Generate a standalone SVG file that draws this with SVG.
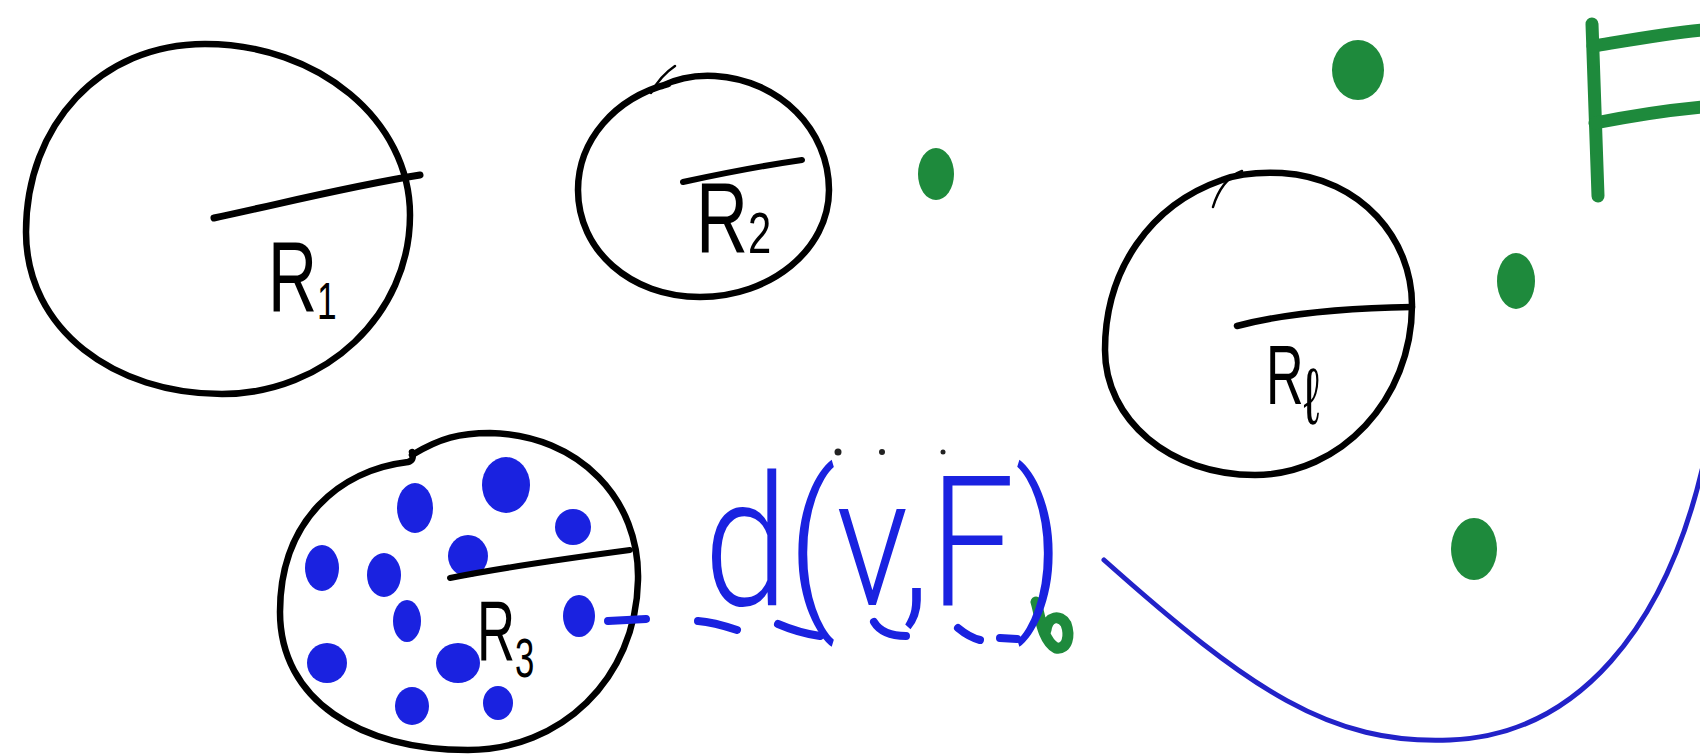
<svg xmlns="http://www.w3.org/2000/svg" width="1700" height="754" viewBox="0 0 1700 754">
<style>
.ring{fill:none;stroke:#000;stroke-width:6.5;stroke-linecap:round;stroke-linejoin:round}
.hook{fill:none;stroke:#000;stroke-width:2.5;stroke-linecap:round}
.rad{fill:none;stroke:#000;stroke-width:7;stroke-linecap:round}
.lbl{font-family:"Liberation Sans","DejaVu Sans",sans-serif;fill:#000}
.gdot{fill:#1e8a3c}
.bdot{fill:#1a22e0}
.blue{fill:none;stroke:#1a22e0;stroke-linecap:round}
.green{fill:none;stroke:#1e8a3c;stroke-linecap:round}
</style>
<rect width="1700" height="754" fill="#fff"/>

<g id="region-R1">
<path class="ring" d="M205,44 C318,44 410,120 410,215 C410,315 325,394 222,394 C115,394 26,330 26,232 C26,125 100,44 205,44 Z"/>
<path class="rad" d="M214,218 C280,204 350,186 420,175"/>
<text class="lbl" transform="translate(268,312) scale(0.68,1)" font-size="100">R<tspan font-size="52" dy="7">1</tspan></text>
</g>

<g id="region-R2">
<path class="ring" d="M662,86 C680,77 698,75 715,76 C780,80 829,130 829,190 C829,250 770,297 700,297 C630,297 578,250 578,190 C578,140 615,98 668,84"/>
<path class="hook" d="M651,93 C658,80 666,72 675,66"/>
<path class="rad" d="M683,182 C720,174 760,166 802,160" style="stroke-width:6"/>
<text class="lbl" transform="translate(696,253) scale(0.72,1)" font-size="100">R<tspan font-size="58">2</tspan></text>
</g>

<g id="region-Rl">
<path class="ring" d="M1222,180 C1240,173 1260,172 1282,173 C1362,178 1412,240 1412,305 C1412,400 1340,475 1255,475 C1170,475 1105,420 1105,350 C1105,270 1150,205 1222,180 Z"/>
<path class="hook" d="M1213,207 C1218,190 1228,176 1242,171"/>
<path class="rad" d="M1237,326 C1290,312 1350,308 1412,307" style="stroke-width:6.5"/>
<text class="lbl" transform="translate(1266,404) scale(0.62,1)" font-size="84">R<tspan font-size="80" dy="20">ℓ</tspan></text>
</g>

<g id="region-R3">
<path class="ring" d="M412,455 C440,438 460,433 490,433 C580,435 640,500 638,580 C636,680 560,750 468,750 C360,750 280,700 280,612 C280,520 340,470 408,462 C412,461 414,458 412,452"/>
<g class="bdot">
<ellipse cx="415" cy="508" rx="18" ry="25"/>
<ellipse cx="506" cy="485" rx="24" ry="28"/>
<ellipse cx="573" cy="527" rx="18" ry="18"/>
<ellipse cx="322" cy="568" rx="17" ry="23"/>
<ellipse cx="384" cy="575" rx="17" ry="22"/>
<ellipse cx="468" cy="556" rx="20" ry="21"/>
<ellipse cx="407" cy="621" rx="14" ry="21"/>
<ellipse cx="579" cy="616" rx="16" ry="21"/>
<ellipse cx="327" cy="663" rx="20" ry="20"/>
<ellipse cx="458" cy="663" rx="22" ry="20"/>
<ellipse cx="412" cy="706" rx="17" ry="19"/>
<ellipse cx="498" cy="703" rx="15" ry="17"/>
</g>
<path class="rad" d="M450,578 C510,566 570,558 630,550" style="stroke-width:6"/>
<text class="lbl" transform="translate(477,660) scale(0.62,1)" font-size="85">R<tspan font-size="56" dy="17">3</tspan></text>
</g>

<g id="set-F">
<ellipse class="gdot" cx="936" cy="174" rx="18" ry="26"/>
<ellipse class="gdot" cx="1358" cy="70" rx="26" ry="30"/>
<ellipse class="gdot" cx="1516" cy="281" rx="19" ry="28"/>
<ellipse class="gdot" cx="1474" cy="549" rx="23" ry="31"/>
<path class="green" d="M1036,602 C1040,615 1042,640 1056,648 C1068,650 1070,635 1066,624 C1060,614 1048,616 1046,630" style="stroke-width:11"/>
<g class="green" style="stroke-width:13">
<path d="M1592,24 C1594,80 1596,140 1598,196"/>
<path d="M1593,46 C1630,40 1670,33 1702,30"/>
<path d="M1595,123 C1630,116 1670,110 1702,107"/>
</g>
</g>

<g id="label-dvF">
<text x="704" y="605" font-family="Roboto, Liberation Sans, sans-serif" font-weight="300" font-size="182" fill="#1a22e0" textLength="360" lengthAdjust="spacingAndGlyphs">d(v,F)</text>
<circle cx="838" cy="452" r="3.5" fill="#222"/>
<circle cx="882" cy="452" r="3" fill="#222"/>
<circle cx="943" cy="452" r="2.5" fill="#222"/>
</g>

<g id="connectors">
<g class="blue" style="stroke-width:8">
<path d="M608,621 L646,619"/>
<path d="M698,621 C712,622 725,626 737,630"/>
<path d="M778,624 C792,630 806,634 820,636"/>
<path d="M874,622 C880,632 892,636 906,636"/>
<path d="M958,628 C964,633 972,638 980,640"/>
<path d="M1000,638 L1017,639"/>
</g>
<path class="blue" style="stroke-width:5;stroke:#2222c8" d="M1104,560 C1250,690 1330,745 1450,740 C1580,735 1665,625 1702,470"/>
</g>
</svg>
